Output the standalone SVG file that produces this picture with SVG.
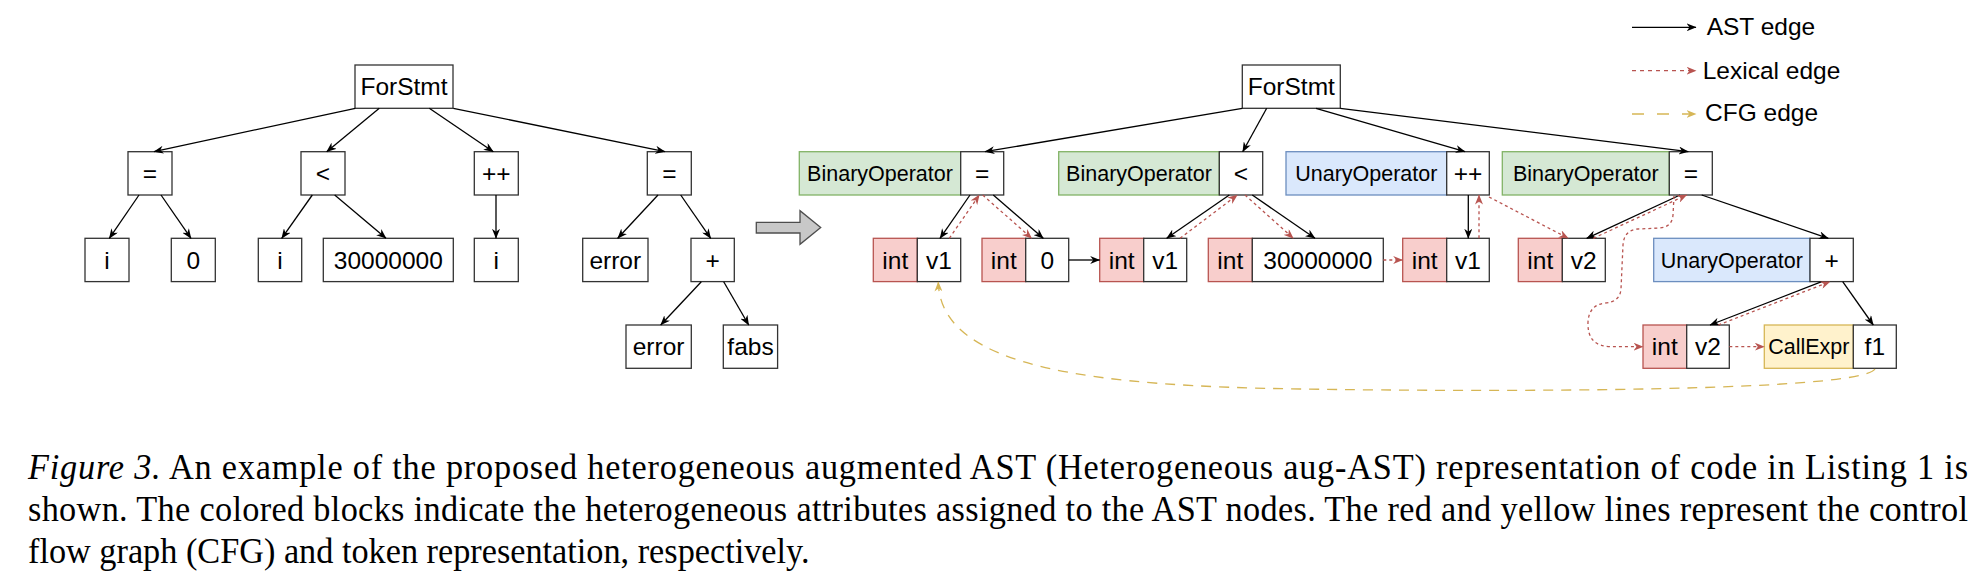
<svg xmlns="http://www.w3.org/2000/svg" width="1982" height="586" viewBox="0 0 1982 586">
<defs>
<style>
.b{fill:#fff;stroke:#333;stroke-width:1.3}
.g{fill:#d5e8d4;stroke:#82b366;stroke-width:1.3}
.bl{fill:#dae8fc;stroke:#6c8ebf;stroke-width:1.3}
.r{fill:#f8cecc;stroke:#b85450;stroke-width:1.3}
.y{fill:#fff2cc;stroke:#d6b656;stroke-width:1.3}
.t{font-family:"Liberation Sans",Arial,sans-serif;font-size:24.5px;text-anchor:middle;fill:#000}
.s{font-size:21.5px}
.lg{font-family:"Liberation Sans",Arial,sans-serif;font-size:24.5px;fill:#000}
.ast{stroke:#000;stroke-width:1.3;fill:none;marker-end:url(#ma)}
.lex{stroke:#b85450;stroke-width:1.3;stroke-dasharray:3 3;fill:none;marker-end:url(#ml)}
.cfg{stroke:#d6b656;stroke-width:1.3;stroke-dasharray:10 8;fill:none;marker-end:url(#mc)}
.cap{font-family:"Liberation Serif","Times New Roman",serif;font-size:36px;fill:#000}
</style>
<marker id="ma" markerUnits="userSpaceOnUse" viewBox="0 0 10 8" markerWidth="10" markerHeight="8" refX="9.5" refY="4" orient="auto"><path d="M0,0 L10,4 L0,8 L3,4 Z" fill="#000"/></marker>
<marker id="ml" markerUnits="userSpaceOnUse" viewBox="0 0 10 8" markerWidth="10" markerHeight="8" refX="9.5" refY="4" orient="auto"><path d="M0,0 L10,4 L0,8 L3,4 Z" fill="#b85450"/></marker>
<marker id="mc" markerUnits="userSpaceOnUse" viewBox="0 0 10 8" markerWidth="10" markerHeight="8" refX="9.5" refY="4" orient="auto"><path d="M0,0 L10,4 L0,8 L3,4 Z" fill="#d6b656"/></marker>
</defs>
<rect width="1982" height="586" fill="#fff"/>

<!-- Left tree nodes -->
<g id="l-forstmt"><rect class="b" x="355" y="65" width="98" height="43.3"/><text class="t" x="404" y="95.3">ForStmt</text></g>
<g id="l-eq1"><rect class="b" x="128" y="151.7" width="44" height="43.3"/><text class="t" x="150" y="182">=</text></g>
<g id="l-lt"><rect class="b" x="301" y="151.7" width="44" height="43.3"/><text class="t" x="323" y="182">&lt;</text></g>
<g id="l-pp"><rect class="b" x="474.3" y="151.7" width="44" height="43.3"/><text class="t" x="496.3" y="182">++</text></g>
<g id="l-eq2"><rect class="b" x="647.3" y="151.7" width="44" height="43.3"/><text class="t" x="669.3" y="182">=</text></g>
<g id="l-i1"><rect class="b" x="85" y="238.3" width="44" height="43.3"/><text class="t" x="107" y="268.7">i</text></g>
<g id="l-zero"><rect class="b" x="171.3" y="238.3" width="44" height="43.3"/><text class="t" x="193.3" y="268.7">0</text></g>
<g id="l-i2"><rect class="b" x="258.3" y="238.3" width="43.4" height="43.3"/><text class="t" x="280" y="268.7">i</text></g>
<g id="l-num"><rect class="b" x="323.3" y="238.3" width="130" height="43.3"/><text class="t" x="388.3" y="268.7">30000000</text></g>
<g id="l-i3"><rect class="b" x="474.3" y="238.3" width="44" height="43.3"/><text class="t" x="496.3" y="268.7">i</text></g>
<g id="l-err1"><rect class="b" x="582.7" y="238.3" width="65.3" height="43.3"/><text class="t" x="615.3" y="268.7">error</text></g>
<g id="l-plus"><rect class="b" x="691" y="238.3" width="43.3" height="43.3"/><text class="t" x="712.6" y="268.7">+</text></g>
<g id="l-err2"><rect class="b" x="626" y="325" width="65.3" height="43.3"/><text class="t" x="658.6" y="355.4">error</text></g>
<g id="l-fabs"><rect class="b" x="723.3" y="325" width="54.3" height="43.3"/><text class="t" x="750.5" y="355.4">fabs</text></g>

<!-- Transform arrow -->
<g id="transform-arrow"><path d="M756.3,222.3 L800,222.3 L800,210.7 L820.7,227.5 L800,244.3 L800,233 L756.3,233 Z" fill="#c8c8c8" stroke="#4d4d4d" stroke-width="1.3"/></g>

<!-- Right tree nodes -->
<g id="r-forstmt"><rect class="b" x="1242.3" y="65" width="98" height="43.3"/><text class="t" x="1291.3" y="95.3">ForStmt</text></g>
<g id="r-eq1"><rect class="g" x="799.3" y="151.7" width="161.4" height="43.3"/><text class="t s" x="880" y="181">BinaryOperator</text><rect class="b" x="960.7" y="151.7" width="43" height="43.3"/><text class="t" x="982.2" y="182">=</text></g>
<g id="r-lt"><rect class="g" x="1058.7" y="151.7" width="160.6" height="43.3"/><text class="t s" x="1139" y="181">BinaryOperator</text><rect class="b" x="1219.3" y="151.7" width="43.4" height="43.3"/><text class="t" x="1241" y="182">&lt;</text></g>
<g id="r-pp"><rect class="bl" x="1286" y="151.7" width="160.7" height="43.3"/><text class="t s" x="1366.3" y="181">UnaryOperator</text><rect class="b" x="1446.7" y="151.7" width="42.6" height="43.3"/><text class="t" x="1468" y="182">++</text></g>
<g id="r-eq2"><rect class="g" x="1502.3" y="151.7" width="167" height="43.3"/><text class="t s" x="1585.8" y="181">BinaryOperator</text><rect class="b" x="1669.3" y="151.7" width="43" height="43.3"/><text class="t" x="1690.8" y="182">=</text></g>

<g id="r-v1a"><rect class="r" x="873.3" y="238.3" width="44" height="43.3"/><text class="t" x="895.3" y="268.7">int</text><rect class="b" x="917.3" y="238.3" width="43.4" height="43.3"/><text class="t" x="939" y="268.7">v1</text></g>
<g id="r-zero"><rect class="r" x="982" y="238.3" width="43.7" height="43.3"/><text class="t" x="1003.8" y="268.7">int</text><rect class="b" x="1025.7" y="238.3" width="43" height="43.3"/><text class="t" x="1047.2" y="268.7">0</text></g>
<g id="r-v1b"><rect class="r" x="1099.7" y="238.3" width="44" height="43.3"/><text class="t" x="1121.7" y="268.7">int</text><rect class="b" x="1143.7" y="238.3" width="43" height="43.3"/><text class="t" x="1165.2" y="268.7">v1</text></g>
<g id="r-num"><rect class="r" x="1208.3" y="238.3" width="44" height="43.3"/><text class="t" x="1230.3" y="268.7">int</text><rect class="b" x="1252.3" y="238.3" width="131" height="43.3"/><text class="t" x="1317.8" y="268.7">30000000</text></g>
<g id="r-v1c"><rect class="r" x="1402.7" y="238.3" width="44" height="43.3"/><text class="t" x="1424.7" y="268.7">int</text><rect class="b" x="1446.7" y="238.3" width="42.6" height="43.3"/><text class="t" x="1468" y="268.7">v1</text></g>
<g id="r-v2a"><rect class="r" x="1518.3" y="238.3" width="44" height="43.3"/><text class="t" x="1540.3" y="268.7">int</text><rect class="b" x="1562.3" y="238.3" width="43" height="43.3"/><text class="t" x="1583.8" y="268.7">v2</text></g>
<g id="r-plus"><rect class="bl" x="1653.7" y="238.3" width="156.3" height="43.3"/><text class="t s" x="1731.8" y="267.7">UnaryOperator</text><rect class="b" x="1810" y="238.3" width="43.3" height="43.3"/><text class="t" x="1831.6" y="268.7">+</text></g>

<g id="r-v2b"><rect class="r" x="1643" y="325" width="43.7" height="43.3"/><text class="t" x="1664.8" y="355.4">int</text><rect class="b" x="1686.7" y="325" width="42.6" height="43.3"/><text class="t" x="1708" y="355.4">v2</text></g>
<g id="r-f1"><rect class="y" x="1764.3" y="325" width="89" height="43.3"/><text class="t s" x="1808.8" y="354.4">CallExpr</text><rect class="b" x="1853.3" y="325" width="43" height="43.3"/><text class="t" x="1874.8" y="355.4">f1</text></g>

<!-- Connectors -->
<g id="connectors">
<path class="ast" d="M355.3,108.3 L154,151.7"/>
<path class="ast" d="M379.3,108.3 L326.7,151.7"/>
<path class="ast" d="M429.3,108.3 L493.3,151.7"/>
<path class="ast" d="M453.3,108.3 L665,151.7"/>
<path class="ast" d="M139,195 L109.3,238.3"/>
<path class="ast" d="M161,195 L191,238.3"/>
<path class="ast" d="M312.3,195 L281.7,238.3"/>
<path class="ast" d="M334.7,195 L386,238.3"/>
<path class="ast" d="M496,195 L496,238.3"/>
<path class="ast" d="M658,195 L617.7,238.3"/>
<path class="ast" d="M680.7,195 L710.7,238.3"/>
<path class="ast" d="M701.3,281.7 L660.7,325"/>
<path class="ast" d="M723.7,281.7 L748.7,325"/>

<path class="ast" d="M1242.3,108.3 L985,151.7"/>
<path class="ast" d="M1266.7,108.3 L1242.7,151.7"/>
<path class="ast" d="M1316,108.3 L1465,151.7"/>
<path class="ast" d="M1340.3,108.3 L1688.3,151.7"/>
<path class="ast" d="M970,195 L940,238.3"/>
<path class="ast" d="M993.3,195 L1043.3,238.3"/>
<path class="ast" d="M1068.7,260 L1099.7,260"/>
<path class="ast" d="M1229.3,195 L1166.7,238.3"/>
<path class="ast" d="M1252.3,195 L1315,238.3"/>
<path class="ast" d="M1468.3,195 L1468.3,238.3"/>
<path class="ast" d="M1680,195 L1586.7,238.3"/>
<path class="ast" d="M1701.7,195 L1828.3,238.3"/>
<path class="ast" d="M1821.7,281.7 L1710,325"/>
<path class="ast" d="M1842.7,281.7 L1873.3,325"/>

<path class="lex" d="M949.3,238.3 L979.3,195"/>
<path class="lex" d="M982.7,195 L1031.7,238.3"/>
<path class="lex" d="M1180,238.3 L1237.3,195"/>
<path class="lex" d="M1245,195 L1293.3,238.3"/>
<path class="lex" d="M1383.3,260 L1402.7,260"/>
<path class="lex" d="M1479,238.3 L1479,195"/>
<path class="lex" d="M1489,197 L1568.3,238.3"/>
<path class="lex" d="M1593.3,238.3 L1686.7,195"/>
<path class="lex" d="M1674,196 L1673,215 Q1672,227 1660,228 L1638,229 Q1624,230 1623,245 L1621,289 Q1620,302 1605,303 Q1589,305 1588,322 Q1587,346 1610,346.7 L1643,346.7"/>
<path class="lex" d="M1718.3,325 L1830,281.7"/>
<path class="lex" d="M1729.3,346.7 L1764.3,346.7"/>

<path class="cfg" d="M1875,369 C1860,392 1500,392 1300,389 C1100,386 940,370 938.3,282"/>
</g>

<!-- Legend -->
<g id="legend">
<path class="ast" d="M1632,27.3 L1696,27.3"/>
<text class="lg" x="1706.7" y="35">AST edge</text>
<path class="lex" d="M1632,70.7 L1696,70.7" style="stroke-dasharray:4 4"/>
<text class="lg" x="1702.7" y="79">Lexical edge</text>
<path class="cfg" d="M1632,114 L1696,114" style="stroke-dasharray:12 13"/>
<text class="lg" x="1705" y="120.7">CFG edge</text>
</g>

<!-- Caption -->
<g id="caption">
<text class="cap" transform="translate(28,479) scale(0.952,1)" textLength="2037.8" lengthAdjust="spacing"><tspan font-style="italic">Figure 3.</tspan> An example of the proposed heterogeneous augmented AST (Heterogeneous aug-AST) representation of code in Listing 1 is</text>
<text class="cap" transform="translate(28,521) scale(0.952,1)" textLength="2037.8" lengthAdjust="spacing">shown. The colored blocks indicate the heterogeneous attributes assigned to the AST nodes. The red and yellow lines represent the control</text>
<text class="cap" transform="translate(28,563) scale(0.952,1)">flow graph (CFG) and token representation, respectively.</text>
</g>
</svg>
